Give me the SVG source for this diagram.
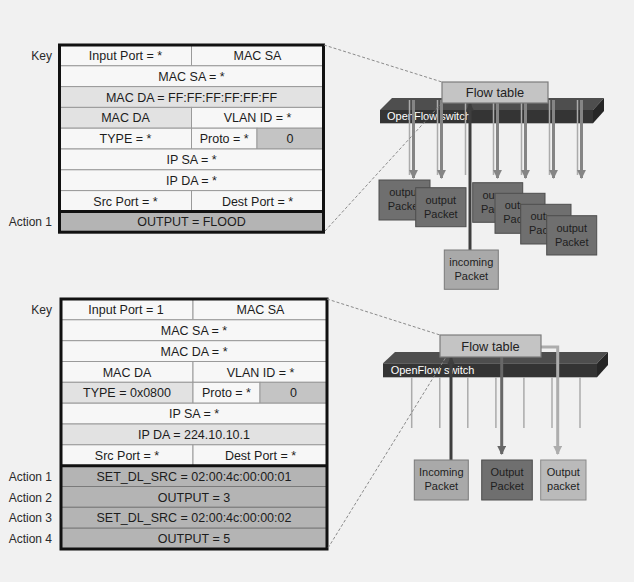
<svg xmlns="http://www.w3.org/2000/svg" width="634" height="582" viewBox="0 0 634 582">
  <style>
    text { font-family: "Liberation Sans", Arial, sans-serif; fill: #1c1c1c; }
    .cell { font-size: 12.5px; text-anchor: middle; }
    .lbl { font-size: 12px; text-anchor: end; fill: #2a2a2a; }
    .w { fill: #f7f7f7; stroke: #9a9a9a; stroke-width: 1; }
    .lg { fill: #e2e2e2; stroke: #9a9a9a; stroke-width: 1; }
    .g { fill: #c4c4c4; stroke: #9a9a9a; stroke-width: 1; }
    .act { fill: #b4b4b4; stroke: #7a7a7a; stroke-width: 1; }
    .frame { fill: none; stroke: #111; stroke-width: 3; }
    .ft { fill: #c4c4c4; stroke: #7c7c7c; stroke-width: 1.2; }
    .ftt { font-size: 12.8px; text-anchor: middle; fill: #222; }
    .sw-top { fill: #4e4e4e; }
    .sw-front { fill: #343434; }
    .sw-side { fill: #262626; }
    .swt { font-size: 11px; fill: #ffffff; }
    .pk { font-size: 11px; text-anchor: middle; fill: #1e1e1e; }
    .out { fill: #6f6f6f; stroke: #4e4e4e; stroke-width: 1; }
    .inc { fill: #a9a9a9; stroke: #7a7a7a; stroke-width: 1; }
    .outl { fill: #bababa; stroke: #8a8a8a; stroke-width: 1; }
    .port { stroke: #ababab; stroke-width: 1.5; }
    .dash { stroke: #8a8a8a; stroke-width: 1; stroke-dasharray: 3 2; fill: none; }
  </style>
  <defs>
    <marker id="hGray" viewBox="0 0 10 10" refX="9" refY="5" markerWidth="3" markerHeight="3" orient="auto" markerUnits="strokeWidth">
      <path d="M0,0 L10,5 L0,10 z" fill="#858585"/>
    </marker>
    <marker id="hDark" viewBox="0 0 10 10" refX="9" refY="5" markerWidth="2.6" markerHeight="2.6" orient="auto" markerUnits="strokeWidth">
      <path d="M0,0 L10,5 L0,10 z" fill="#3e3e3e"/>
    </marker>
    <marker id="hMid" viewBox="0 0 10 10" refX="9" refY="5" markerWidth="3" markerHeight="3" orient="auto" markerUnits="strokeWidth">
      <path d="M0,0 L10,5 L0,10 z" fill="#676767"/>
    </marker>
    <marker id="hLight" viewBox="0 0 10 10" refX="9" refY="5" markerWidth="3" markerHeight="3" orient="auto" markerUnits="strokeWidth">
      <path d="M0,0 L10,5 L0,10 z" fill="#adadad"/>
    </marker>
    <!-- visible parts of the stacked packet cards -->
    <clipPath id="clipA" clipPathUnits="userSpaceOnUse"><rect x="379" y="180" width="36.7" height="40"/></clipPath>
    <clipPath id="clipC" clipPathUnits="userSpaceOnUse"><rect x="472.7" y="182.7" width="22.3" height="40"/></clipPath>
    <clipPath id="clipD" clipPathUnits="userSpaceOnUse"><rect x="495" y="193.3" width="25.7" height="40"/></clipPath>
    <clipPath id="clipE" clipPathUnits="userSpaceOnUse"><rect x="520.7" y="204.3" width="26" height="40"/></clipPath>
  </defs>

  <rect x="0" y="0" width="634" height="582" fill="#f1f1f1"/>

  <!-- ===== Flow entry 1: broadcast flood ===== -->
  <g id="table1">
    <text class="lbl" x="52" y="60">Key</text>
    <text class="lbl" x="52" y="226.4">Action 1</text>
    <rect class="w" x="59.5" y="45" width="132" height="20.8"/>
    <rect class="w" x="191.5" y="45" width="132" height="20.8"/>
    <rect class="w" x="59.5" y="65.8" width="264" height="20.8"/>
    <rect class="lg" x="59.5" y="86.6" width="264" height="20.8"/>
    <rect class="lg" x="59.5" y="107.4" width="132" height="20.8"/>
    <rect class="w" x="191.5" y="107.4" width="132" height="20.8"/>
    <rect class="w" x="59.5" y="128.2" width="132" height="20.8"/>
    <rect class="w" x="191.5" y="128.2" width="65.5" height="20.8"/>
    <rect class="g" x="257" y="128.2" width="66.5" height="20.8"/>
    <rect class="w" x="59.5" y="149" width="264" height="20.8"/>
    <rect class="w" x="59.5" y="169.8" width="264" height="20.8"/>
    <rect class="w" x="59.5" y="190.6" width="132" height="20.8"/>
    <rect class="w" x="191.5" y="190.6" width="132" height="20.8"/>
    <rect class="act" x="59.5" y="211.4" width="264" height="20.8"/>
    <text class="cell" x="125.5" y="60">Input Port = *</text>
    <text class="cell" x="257.5" y="60">MAC SA</text>
    <text class="cell" x="191.5" y="80.8">MAC SA = *</text>
    <text class="cell" x="191.5" y="101.6">MAC DA = FF:FF:FF:FF:FF:FF</text>
    <text class="cell" x="125.5" y="122.4">MAC DA</text>
    <text class="cell" x="257.5" y="122.4">VLAN ID = *</text>
    <text class="cell" x="125.5" y="143.2">TYPE = *</text>
    <text class="cell" x="224.2" y="143.2">Proto = *</text>
    <text class="cell" x="290" y="143.2">0</text>
    <text class="cell" x="191.5" y="164">IP SA = *</text>
    <text class="cell" x="191.5" y="184.8">IP DA = *</text>
    <text class="cell" x="125.5" y="205.6">Src Port = *</text>
    <text class="cell" x="257.5" y="205.6">Dest Port = *</text>
    <text class="cell" x="191.5" y="226.4">OUTPUT = FLOOD</text>
    <rect class="frame" x="59.5" y="45" width="264" height="187.2"/>
    <line x1="59.5" y1="211.4" x2="323.5" y2="211.4" stroke="#111" stroke-width="3"/>
  </g>

  <!-- switch 1 body -->
  <g id="switch1">
    <polygon class="sw-top" points="392,98 604,98 593,110 380,110"/>
    <rect class="sw-front" x="380" y="110" width="213" height="13.3"/>
    <polygon class="sw-side" points="593,110 604,98 604,111 593,123.3"/>
    <text class="swt" x="387" y="120">OpenFlow switch</text>
  </g>

  <!-- switch 1 ports and flooded copies -->
  <g id="connectors1">
    <line class="port" x1="409.5" y1="100" x2="409.5" y2="175"/>
    <line class="port" x1="437.5" y1="100" x2="437.5" y2="175"/>
    <line class="port" x1="465.5" y1="100" x2="465.5" y2="175"/>
    <line class="port" x1="493.5" y1="100" x2="493.5" y2="175"/>
    <line class="port" x1="521.5" y1="100" x2="521.5" y2="175"/>
    <line class="port" x1="549.5" y1="100" x2="549.5" y2="175"/>
    <line class="port" x1="577.5" y1="100" x2="577.5" y2="175"/>
    <g stroke="#858585" stroke-width="3" marker-end="url(#hGray)">
      <line x1="413.5" y1="100" x2="413.5" y2="178"/>
      <line x1="441.5" y1="100" x2="441.5" y2="178"/>
      <line x1="497.5" y1="100" x2="497.5" y2="178"/>
      <line x1="525.5" y1="100" x2="525.5" y2="178"/>
      <line x1="553.5" y1="100" x2="553.5" y2="178"/>
      <line x1="581.5" y1="100" x2="581.5" y2="178"/>
    </g>
    <line x1="470" y1="250" x2="470" y2="103.5" stroke="#3e3e3e" stroke-width="3" marker-end="url(#hDark)"/>
  </g>

  <g id="flowtable1">
    <rect class="ft" x="442" y="82" width="106" height="21"/>
    <text class="ftt" x="495" y="97">Flow table</text>
  </g>

  <g id="out1a">
    <rect class="out" x="379" y="180" width="51" height="40"/>
    <g clip-path="url(#clipA)">
      <text class="pk" x="404.5" y="196">output</text>
      <text class="pk" x="404.5" y="210">Packet</text>
    </g>
  </g>
  <g id="out1b">
    <rect class="out" x="415.7" y="187.7" width="50.3" height="39"/>
    <text class="pk" x="440.8" y="203.5">output</text>
    <text class="pk" x="440.8" y="217.5">Packet</text>
  </g>
  <g id="out1c">
    <rect class="out" x="472.7" y="182.7" width="50" height="39.6"/>
    <g clip-path="url(#clipC)">
      <text class="pk" x="497.7" y="198.5">output</text>
      <text class="pk" x="497.7" y="212.5">Packet</text>
    </g>
  </g>
  <g id="out1d">
    <rect class="out" x="495" y="193.3" width="50" height="40"/>
    <g clip-path="url(#clipD)">
      <text class="pk" x="520" y="209">output</text>
      <text class="pk" x="520" y="223">Packet</text>
    </g>
  </g>
  <g id="out1e">
    <rect class="out" x="520.7" y="204.3" width="50.3" height="39.7"/>
    <g clip-path="url(#clipE)">
      <text class="pk" x="545.8" y="220">output</text>
      <text class="pk" x="545.8" y="234">Packet</text>
    </g>
  </g>
  <g id="out1f">
    <rect class="out" x="546.7" y="215.7" width="50" height="39.3"/>
    <text class="pk" x="571.7" y="231.5">output</text>
    <text class="pk" x="571.7" y="245.5">Packet</text>
  </g>
  <g id="in1">
    <rect class="inc" x="444.3" y="250" width="54" height="39.3"/>
    <text class="pk" x="471.3" y="266">incoming</text>
    <text class="pk" x="471.3" y="280">Packet</text>
  </g>

  <!-- ===== Flow entry 2: multicast with rewrite ===== -->
  <g id="table2">
    <text class="lbl" x="52" y="314">Key</text>
    <text class="lbl" x="52" y="480.7">Action 1</text>
    <text class="lbl" x="52" y="501.5">Action 2</text>
    <text class="lbl" x="52" y="522.3">Action 3</text>
    <text class="lbl" x="52" y="543.2">Action 4</text>
    <rect class="w" x="61" y="299" width="132" height="20.8"/>
    <rect class="w" x="193" y="299" width="134" height="20.8"/>
    <rect class="w" x="61" y="319.8" width="266" height="20.9"/>
    <rect class="w" x="61" y="340.7" width="266" height="20.8"/>
    <rect class="w" x="61" y="361.5" width="132" height="20.8"/>
    <rect class="w" x="193" y="361.5" width="134" height="20.8"/>
    <rect class="lg" x="61" y="382.3" width="132" height="20.9"/>
    <rect class="w" x="193" y="382.3" width="67" height="20.9"/>
    <rect class="g" x="260" y="382.3" width="67" height="20.9"/>
    <rect class="w" x="61" y="403.2" width="266" height="20.8"/>
    <rect class="lg" x="61" y="424" width="266" height="20.8"/>
    <rect class="w" x="61" y="444.8" width="132" height="20.9"/>
    <rect class="w" x="193" y="444.8" width="134" height="20.9"/>
    <rect class="act" x="61" y="465.7" width="266" height="20.8"/>
    <rect class="act" x="61" y="486.5" width="266" height="20.8"/>
    <rect class="act" x="61" y="507.3" width="266" height="20.9"/>
    <rect class="act" x="61" y="528.2" width="266" height="20.8"/>
    <text class="cell" x="126" y="314">Input Port = 1</text>
    <text class="cell" x="260.5" y="314">MAC SA</text>
    <text class="cell" x="194" y="334.8">MAC SA = *</text>
    <text class="cell" x="194" y="355.7">MAC DA = *</text>
    <text class="cell" x="127" y="376.5">MAC DA</text>
    <text class="cell" x="260.5" y="376.5">VLAN ID = *</text>
    <text class="cell" x="127" y="397.3">TYPE = 0x0800</text>
    <text class="cell" x="226.5" y="397.3">Proto = *</text>
    <text class="cell" x="293.5" y="397.3">0</text>
    <text class="cell" x="194" y="418.2">IP SA = *</text>
    <text class="cell" x="194" y="439">IP DA = 224.10.10.1</text>
    <text class="cell" x="127" y="459.8">Src Port = *</text>
    <text class="cell" x="260.5" y="459.8">Dest Port = *</text>
    <text class="cell" x="194" y="480.7">SET_DL_SRC = 02:00:4c:00:00:01</text>
    <text class="cell" x="194" y="501.5">OUTPUT = 3</text>
    <text class="cell" x="194" y="522.3">SET_DL_SRC = 02:00:4c:00:00:02</text>
    <text class="cell" x="194" y="543.2">OUTPUT = 5</text>
    <rect class="frame" x="61" y="299" width="266" height="250"/>
    <line x1="61" y1="465.7" x2="327" y2="465.7" stroke="#111" stroke-width="3"/>
  </g>

  <g id="switch2">
    <polygon class="sw-top" points="395,352 608,352 597,363.3 383,363.3"/>
    <rect class="sw-front" x="383" y="363.3" width="214" height="14"/>
    <polygon class="sw-side" points="597,363.3 608,352 608,365 597,377.3"/>
    <text class="swt" x="390.7" y="374">OpenFlow switch</text>
  </g>

  <g id="connectors2">
    <line class="port" x1="411.7" y1="377" x2="411.7" y2="428"/>
    <line class="port" x1="439.8" y1="377" x2="439.8" y2="428"/>
    <line class="port" x1="467.8" y1="377" x2="467.8" y2="428"/>
    <line class="port" x1="495.9" y1="377" x2="495.9" y2="428"/>
    <line class="port" x1="523.9" y1="377" x2="523.9" y2="428"/>
    <line class="port" x1="552" y1="377" x2="552" y2="428"/>
    <line class="port" x1="580" y1="377" x2="580" y2="428"/>
    <line x1="451" y1="460" x2="451" y2="357.5" stroke="#3e3e3e" stroke-width="3" marker-end="url(#hDark)"/>
    <line x1="501.7" y1="356" x2="501.7" y2="454" stroke="#676767" stroke-width="3" marker-end="url(#hMid)"/>
    <polyline points="541,347 557.7,347 557.7,454" fill="none" stroke="#adadad" stroke-width="3" marker-end="url(#hLight)"/>
  </g>

  <g id="flowtable2">
    <rect class="ft" x="440" y="335" width="101" height="22"/>
    <text class="ftt" x="490.5" y="351">Flow table</text>
  </g>

  <g id="in2">
    <rect class="inc" x="414.3" y="460" width="54" height="40"/>
    <text class="pk" x="441.3" y="476">Incoming</text>
    <text class="pk" x="441.3" y="490">Packet</text>
  </g>
  <g id="out2a">
    <rect class="out" x="481.7" y="460" width="50.6" height="40"/>
    <text class="pk" x="507" y="476">Output</text>
    <text class="pk" x="507" y="490">Packet</text>
  </g>
  <g id="out2b">
    <rect class="outl" x="540.7" y="460" width="45.3" height="40"/>
    <text class="pk" x="563.3" y="476">Output</text>
    <text class="pk" x="563.3" y="490">packet</text>
  </g>

  <!-- zoom guides from each flow entry to its flow table -->
  <g id="guides">
    <line class="dash" x1="324" y1="45" x2="442" y2="82"/>
    <line class="dash" x1="325" y1="231" x2="442" y2="103"/>
    <line class="dash" x1="327" y1="299" x2="440" y2="335"/>
    <line class="dash" x1="328" y1="548" x2="446" y2="357"/>
  </g>
</svg>
